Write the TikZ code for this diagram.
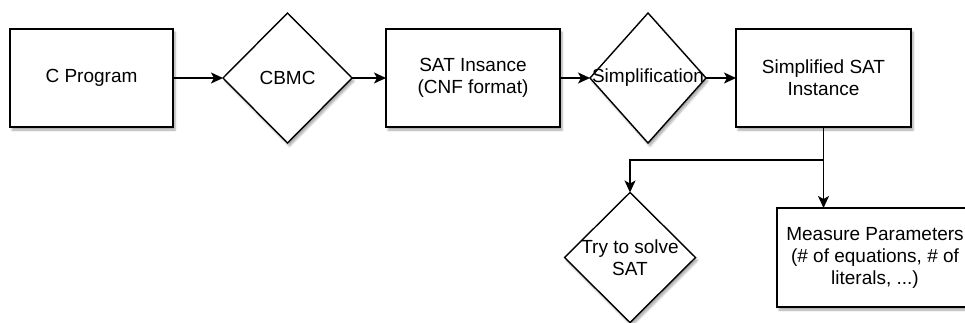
\documentclass[tikz,border=0pt]{standalone}
\usepackage{fontspec}
\setmainfont{Liberation Sans}
\usepackage{tikz}
\usetikzlibrary{positioning, shapes.geometric, arrows.meta, shadows.blur}

\begin{document}
\begin{tikzpicture}[x=1pt,y=-1pt,line width=1.4pt,
    every node/.style={font=\fontsize{19}{22}\selectfont, outer sep=0pt, inner sep=0pt},
    shade/.style={blur shadow={shadow xshift=2pt, shadow yshift=-3pt, shadow opacity=35, shadow blur steps=6}},
    box/.style={draw, fill=white, shade, rectangle, minimum height=98pt, align=center},
    dia/.style={draw, fill=white, shade, diamond, minimum width=129pt, minimum height=130pt},
    arr/.style={-{Stealth[length=12pt,width=11pt,inset=3pt]}}]
    \useasboundingbox (0,0) rectangle (965,322);

    \node[box, minimum width=163pt] (prog) at (91.5,78) {C Program};
    \node[dia] (cbmc) [right=50pt of prog] {CBMC};
    \node[box, minimum width=174pt] (sat) [right=34pt of cbmc] {SAT Insance\\(CNF format)};
    \node[dia, minimum width=116pt, label={center:Simplification}] (simp) [right=30pt of sat] {};
    \node[box, minimum width=175pt] (simpsat) [right=30pt of simp] {Simplified SAT\\Instance};

    \node[dia, minimum width=131pt, label={[align=center]center:Try to solve\\SAT}] (try) at (630,257.5) {};
    \node[box, minimum width=196pt, minimum height=99pt, anchor=north west] (meas) at (777,208)
        {Measure Parameters\\(\# of equations, \# of\\literals, ...)};

    \coordinate (split) at ([yshift=-33pt]simpsat.south);

    \path[arr] (prog) edge (cbmc)
               (cbmc) edge (sat)
               (sat) edge (simp)
               (simp) edge (simpsat);
    \draw (simpsat.south) -- (split);
    \draw[arr] (split) -| (try.north);
    \draw[arr] (split) -- (split |- meas.north);
\end{tikzpicture}
\end{document}
